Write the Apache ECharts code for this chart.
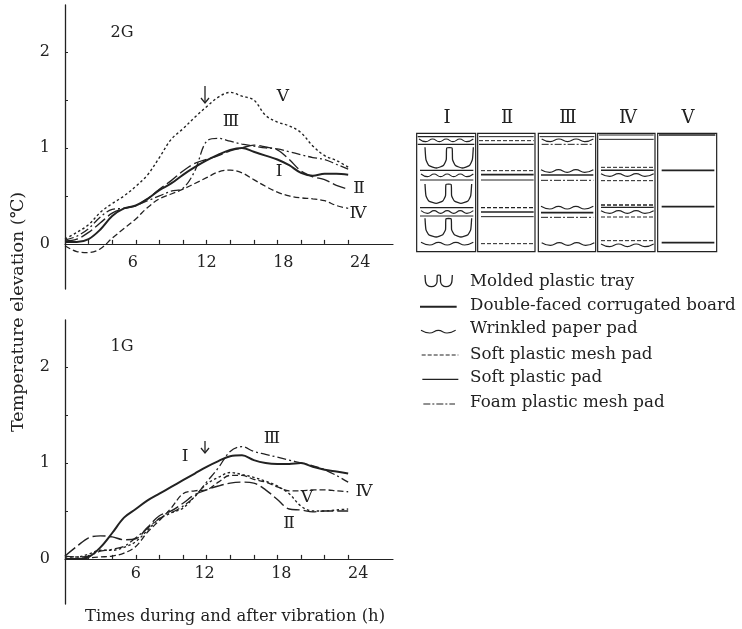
<!DOCTYPE html>
<html><head><meta charset="utf-8">
<style>html,body{margin:0;padding:0;background:#fff}#c{width:742px;height:629px}</style>
<script src="https://cdn.jsdelivr.net/npm/echarts@6/dist/echarts.min.js"></script>
</head><body><div id="c"></div>
<script>
const hours=[0,1,2,3,4,5,6,7,8,9,10,11,12,13,14,15,16,17,18,19,20,21,22,23,24];
const xTickValues=[0,2,4,6,8,10,12,14,16,18,20,22,24];
const xLabelValues=[6,12,18,24];
const yTickValues=[0,0.5,1,1.5,2];
const yLabelValues=[0,1,2];
// 2G panel
const g2_I=[.02,.02,.05,.15,.29,.37,.4,.47,.56,.63,.72,.8,.87,.93,.98,1.0,.96,.92,.88,.82,.74,.71,.73,.73,.72];
const g2_II=[.03,.05,.12,.22,.32,.37,.4,.47,.57,.66,.76,.84,.88,.92,.97,1.0,1.03,1.01,.98,.88,.76,.7,.67,.61,.57];
const g2_III=[.04,.08,.16,.28,.36,.37,.4,.45,.5,.55,.58,.76,1.07,1.1,1.07,1.04,1.02,1.0,.99,.96,.93,.9,.88,.83,.78];
const g2_IV=[-.02,-.08,-.09,-.05,.06,.16,.26,.38,.47,.52,.57,.63,.69,.75,.77,.74,.67,.6,.54,.5,.48,.47,.45,.4,.37];
const g2_V=[.05,.12,.2,.33,.42,.5,.6,.72,.9,1.09,1.2,1.32,1.43,1.53,1.58,1.54,1.5,1.34,1.27,1.23,1.16,1.02,.92,.87,.8];
// 1G panel
const g1_I=[0,0,.02,.12,.27,.43,.52,.61,.68,.75,.82,.89,.96,1.02,1.07,1.08,1.03,1.0,.99,.99,1.0,.96,.93,.91,.89];
const g1_II=[.03,.13,.22,.24,.23,.2,.21,.33,.45,.5,.58,.67,.72,.76,.79,.8,.79,.72,.62,.52,.51,.49,.5,.5,.5];
const g1_III=[.03,.02,.03,.08,.1,.13,.22,.32,.42,.48,.55,.65,.8,.95,1.12,1.17,1.12,1.09,1.06,1.03,1.0,.97,.93,.87,.8];
const g1_IV=[0,0,.01,.02,.03,.06,.13,.28,.4,.53,.68,.71,.72,.8,.87,.87,.83,.8,.75,.71,.71,.72,.72,.71,.7];
const g1_V=[.02,.02,.05,.09,.09,.12,.18,.3,.42,.48,.53,.65,.78,.85,.9,.88,.85,.81,.76,.68,.55,.5,.5,.51,.52];
const legendLabels=['Molded plastic tray','Double-faced corrugated board','Wrinkled paper pad','Soft plastic mesh pad','Soft plastic pad','Foam plastic mesh pad'];
const xTitle='Times during and after vibration (h)';
const yTitle='Temperature elevation (℃)';

const INK='#222', FONT='"DejaVu Serif"';
const STY={I:{type:'solid',width:2},II:{type:[13,4],width:1.4},III:{type:[9,3,2,3],width:1.3},IV:{type:[6,3],width:1.3},V:{type:[2.5,2.5],width:1.4}};
function mk(name,vals,ax){return {name,type:'line',xAxisIndex:ax,yAxisIndex:ax,smooth:0.35,showSymbol:false,symbol:'none',
  lineStyle:{color:INK,type:STY[name].type,width:STY[name].width},data:hours.map((h,i)=>[h,vals[i]])};}
function xAxis(idx,margin,shift){
  const rich={};
  xLabelValues.forEach(v=>{rich['s'+v]={fontFamily:FONT,fontSize:16,color:INK,padding:shift[v]};});
  return {gridIndex:idx,type:'value',min:0,max:27.8,
    axisLine:{onZero:true,lineStyle:{color:INK,width:1.2}},
    axisTick:{show:true,inside:true,length:4,customValues:xTickValues,lineStyle:{color:INK,width:1.2}},
    splitLine:{show:false},
    axisLabel:{customValues:xLabelValues,margin,formatter:v=>`{s${v}|${v}}`,rich}};
}
function yAxis(idx){
  return {gridIndex:idx,type:'value',min:-0.47,max:2.49,
    axisLine:{onZero:false,lineStyle:{color:INK,width:1.3}},
    axisTick:{show:true,inside:true,length:3,customValues:yTickValues,lineStyle:{color:INK}},
    splitLine:{show:false},
    axisLabel:{customValues:yLabelValues,margin:15,fontFamily:FONT,fontSize:16,color:INK}};
}

// schematic helpers: zoom-crop coordinates map to page pixels
const px=x=>405+x/3, py=y=>90+y/3;
const g=[];
function text(t,x,y,size,extra){g.push(Object.assign({type:'text',x,y,silent:true,style:{text:t,fill:INK,font:`${size}px ${FONT}`,textAlign:'center',textVerticalAlign:'middle'}},extra||{}));}
function left(t,x,y,size){g.push({type:'text',x,y,silent:true,style:{text:t,fill:INK,font:`${size}px ${FONT}`,textAlign:'left',textVerticalAlign:'middle'}});}
const DASH={solid:null,dash:[4,2],dd:[7,2,2,2]};
function hl(x1,x2,y,kind,w){g.push({type:'line',silent:true,shape:{x1:px(x1),y1:py(y),x2:px(x2),y2:py(y)},style:{stroke:INK,lineWidth:w||1,lineDash:DASH[kind||'solid']}});}
function wave(x1,x2,y,n){const pts=[];const m=(n||3)*2;for(let i=0;i<=m;i++){pts.push([px(x1+(x2-x1)*i/m),py(y+(i%2?4:-4))]);}
  g.push({type:'polyline',silent:true,shape:{points:pts,smooth:0.5},style:{stroke:INK,lineWidth:1.1,fill:null}});}
function tray(x,y,w,h){const seg=[[0,0],[0.02,.6],[.08,.88],[.24,1],[.38,.88],[.44,.6],[.45,.03],[.56,.03],[.57,.6],[.63,.88],[.77,1],[.92,.88],[.98,.6],[1,0]];
  g.push({type:'polyline',silent:true,shape:{points:seg.map(s=>[px(x+s[0]*w),py(y+s[1]*h)]),smooth:0.15},style:{stroke:INK,lineWidth:1.3,fill:null}});}
function box(x1,x2){g.push({type:'rect',silent:true,shape:{x:px(x1),y:py(130),width:(x2-x1)/3,height:355/3},style:{stroke:INK,lineWidth:1.2,fill:null}});}

[[35,212],[218,390],[400,572],[578,750],[758,935]].forEach(b=>box(b[0],b[1]));
[['Ⅰ',447],['Ⅱ',507],['Ⅲ',568],['Ⅳ',628],['Ⅴ',688]].forEach(r=>text(r[0],r[1],118,18));
// I
hl(38,208,140,'solid',1.3);wave(42,205,151,4);hl(38,208,163,'solid',1.3);tray(60,172,145,62);
hl(45,205,241,'solid',1.3);wave(48,205,256,4);hl(45,205,270,'solid',1);tray(60,282,140,58);
hl(45,205,353,'solid',1.3);wave(48,205,366,4);hl(45,205,378,'solid',1);tray(60,385,140,56);
wave(48,205,461,3);
// II
hl(222,386,140);hl(222,386,152,'dash');hl(222,386,163,'solid',1.4);hl(228,386,242,'dash');hl(228,386,254,'solid',1.6);hl(228,386,270);
hl(228,386,353,'dash',1.3);hl(228,386,366,'solid',1.6);hl(228,386,380);hl(228,386,461,'dash');
// III
hl(404,568,140);wave(410,565,151,3);hl(410,565,163,'dd');wave(408,565,243,3);hl(408,565,255,'solid',1.6);hl(408,565,271,'dd');
wave(408,565,353,3);hl(408,565,368,'solid',1.6);hl(408,565,382,'dd');wave(410,568,462,3);
// IV
hl(582,746,135);hl(582,746,148);hl(588,746,232,'dash');hl(588,746,241,'solid',1.5);wave(588,746,255,3);hl(588,746,272,'dash');
hl(588,746,345,'dash',1.5);hl(588,746,352,'solid',1.3);wave(588,746,366,3);hl(588,746,381,'dash');hl(588,746,452,'dash');wave(588,746,466,3);
// V
hl(762,931,135,'solid',1.5);hl(770,928,241,'solid',1.6);hl(770,928,350,'solid',1.6);hl(770,928,458,'solid',1.6);
// legend
const legY=[282,306,329,355,378,403];
legendLabels.forEach((t,i)=>left(t,470,legY[i],16.7));
tray(60,555,82,35);
hl(45,155,650,'solid',2);
wave(48,152,725,2);
hl(50,160,795,'dash',1.1);
hl(52,160,868,'solid',1.2);
hl(55,150,942,'dd',1.2);
// annotations
text('2G',122,33,16);text('1G',122,347,16);
text('Ⅴ',283,97,17);text('Ⅲ',231,122,17);text('Ⅰ',279,172,17);text('Ⅱ',359,189,17);text('Ⅳ',358,214,17);
text('Ⅲ',272,439,17);text('Ⅰ',185,457,17);text('Ⅴ',307,498,17);text('Ⅱ',289,524,17);text('Ⅳ',364,492,17);
function arrow(x,y1,y2){g.push({type:'polyline',silent:true,shape:{points:[[x,y1],[x,y2]]},style:{stroke:INK,lineWidth:1.3,fill:null}});
  g.push({type:'polyline',silent:true,shape:{points:[[x-4,y2-5],[x,y2],[x+4,y2-5]]},style:{stroke:INK,lineWidth:1.3,fill:null}});}
arrow(205,86,103);arrow(205,441,453);
text(yTitle,18,312,17.5,{rotation:Math.PI/2});
left(xTitle,85,617,16.4);

const chart=echarts.init(document.getElementById('c'),null,{renderer:'canvas'});
chart.setOption({
  animation:false,backgroundColor:'#fff',
  grid:[{left:65,top:5,width:328,height:284},{left:65,top:320,width:328,height:284}],
  xAxis:[xAxis(0,-34,{6:[0,6,0,0],12:[0,0,0,0],18:[0,0,0,12],24:[0,0,0,24]}),xAxis(1,-38,{6:[0,0,0,0],12:[0,4,0,0],18:[0,0,0,8],24:[0,0,0,20]})],
  yAxis:[yAxis(0),yAxis(1)],
  graphic:{elements:g},
  series:[mk('I',g2_I,0),mk('II',g2_II,0),mk('III',g2_III,0),mk('IV',g2_IV,0),mk('V',g2_V,0),
          mk('I',g1_I,1),mk('II',g1_II,1),mk('III',g1_III,1),mk('IV',g1_IV,1),mk('V',g1_V,1)]
});
</script></body></html>
